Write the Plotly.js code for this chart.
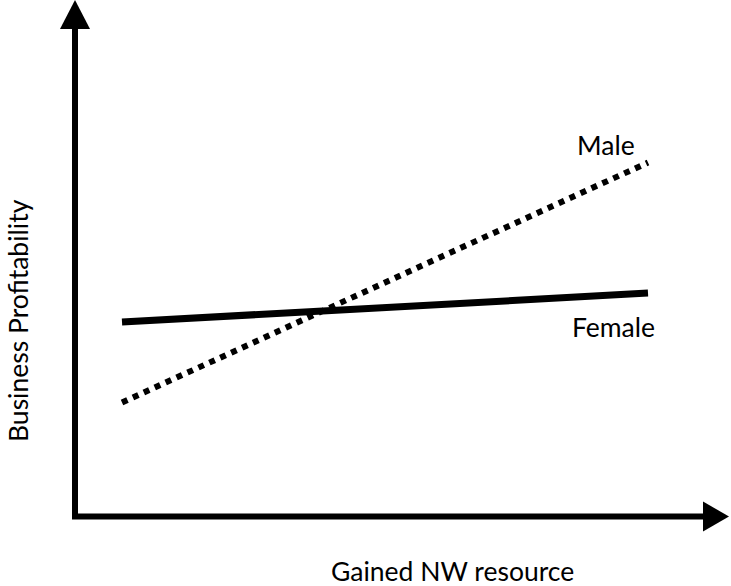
<!DOCTYPE html>
<html>
<head>
<meta charset="utf-8">
<script src="https://cdn.plot.ly/plotly-3.0.1.min.js"></script>
<style>html,body{margin:0;padding:0;background:#fff;}#chart{width:731px;height:586px;}</style>
</head>
<body>
<div id="chart"></div>
<script>
// Data (conceptual interaction plot)
const seriesNames = ["Female", "Male"];
const xPoints = [1, 9];
const femaleValues = [3.76, 4.32];
const maleValues = [2.2, 6.85];
const xAxisTitle = "Gained NW resource";
const yAxisTitle = "Business Profitability";

const W = 731, H = 586;
const L = 75, B = 70, T = 0, R = 0;
const plotW = W - L - R, plotH = H - T - B;
const px = v => (v - L) / plotW;          // pixel x -> paper
const py = v => (H - B - v) / plotH;      // pixel y -> paper
const FONT = "Lato, 'Open Sans', sans-serif";
const FS = 26.5;

const traces = [
  {x: xPoints, y: femaleValues, name: seriesNames[0], type: "scatter", mode: "lines",
   line: {color: "#000", width: 7}},
  {x: xPoints, y: maleValues, name: seriesNames[1], type: "scatter", mode: "lines",
   line: {color: "#000", width: 6, dash: "dot"}}
];

const shapes = [
  // y axis line
  {type: "line", xref: "paper", yref: "paper", x0: px(75), x1: px(75), y0: py(517), y1: py(28),
   line: {color: "#000", width: 6}},
  // x axis line
  {type: "line", xref: "paper", yref: "paper", x0: px(72), x1: px(704), y0: py(516.5), y1: py(516.5),
   line: {color: "#000", width: 6}},
  // arrow heads
  {type: "path", xref: "paper", yref: "paper",
   path: `M ${px(60)} ${py(29)} L ${px(90)} ${py(29)} L ${px(75)} ${py(0)} Z`,
   fillcolor: "#000", line: {color: "#000", width: 0}},
  {type: "path", xref: "paper", yref: "paper",
   path: `M ${px(703)} ${py(501.5)} L ${px(703)} ${py(531.5)} L ${px(729)} ${py(516.5)} Z`,
   fillcolor: "#000", line: {color: "#000", width: 0}}
];

const annotations = [
  {text: seriesNames[1], xref: "paper", yref: "paper", x: px(606), y: py(145),
   xanchor: "center", yanchor: "middle", showarrow: false, font: {family: FONT, size: FS, color: "#000"}},
  {text: seriesNames[0], xref: "paper", yref: "paper", x: px(613), y: py(327),
   xanchor: "center", yanchor: "middle", showarrow: false, font: {family: FONT, size: FS, color: "#000"}},
  {text: xAxisTitle, xref: "paper", yref: "paper", x: px(452), y: py(571),
   xanchor: "center", yanchor: "middle", showarrow: false, font: {family: FONT, size: FS, color: "#000"}},
  {text: yAxisTitle, xref: "paper", yref: "paper", x: px(18), y: py(321), textangle: -90,
   xanchor: "center", yanchor: "middle", showarrow: false, font: {family: FONT, size: FS, color: "#000"}}
];

// axis ranges so that x=1..9 and y=0..10 map onto the drawing
const xLeft = 1 - (122 - L) / ((648 - 122) / 8);
const xRight = 9 + (W - 648) / ((648 - 122) / 8);

const layout = {
  width: W, height: H,
  margin: {l: L, r: R, t: T, b: B, pad: 0},
  paper_bgcolor: "#fff", plot_bgcolor: "#fff",
  showlegend: false,
  xaxis: {range: [xLeft, xRight], showgrid: false, zeroline: false, showline: false,
          showticklabels: false, ticks: "", title: {text: ""}},
  yaxis: {range: [0, 10], showgrid: false, zeroline: false, showline: false,
          showticklabels: false, ticks: "", title: {text: ""}},
  shapes: shapes,
  annotations: annotations
};

Plotly.newPlot("chart", traces, layout, {displayModeBar: false, staticPlot: true});
</script>
</body>
</html>
